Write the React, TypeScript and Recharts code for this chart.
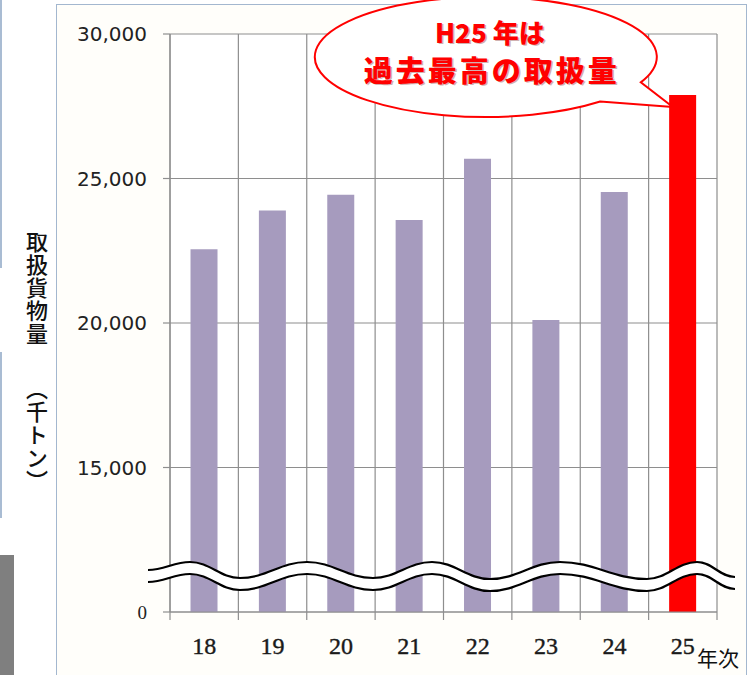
import { BarChart, Bar, XAxis, YAxis, CartesianGrid, Cell, ReferenceDot } from "recharts";

// 取扱貨物量 (千トン) by year (平成)
const years = ["18", "19", "20", "21", "22", "23", "24", "25"];
const cargo = [22550, 23890, 24440, 23560, 25680, 20100, 24530, 27890];
const yTicks = [10000, 15000, 20000, 25000, 30000];
const axisBreak = 10000; // bottom of the broken axis, labelled "0"
const highlightYear = "25";
const calloutLines = ["H25 年は", "過去最高の取扱量"];
const yTitle = ["取扱貨物量", "（千トン）"];
const xTitle = "年次";

const chartData = years.map((year, i) => ({ year, cargo: cargo[i] }));

const W = 755;
const H = 675;
const margin = { top: 34, right: 38, left: 70, bottom: 33 };
const yAxisWidth = 100;
const band = (W - margin.left - margin.right - yAxisWidth) / years.length;

const gridColor = "#8e8e8e";
const barColor = "#A69BBE";
const red = "#FF0000";
const cjk = "'Noto Sans CJK JP', 'Noto Sans', sans-serif";

// hand drawn break mark (upper stroke), lower stroke is offset
const breakPts: [number, number][] = [
  [148, 570], [190, 562], [240, 578], [307, 562], [373, 578], [432, 562],
  [490, 579], [560, 562], [647, 579], [697, 562], [735, 577],
];

function wavePath(dy: number) {
  let d = `M${breakPts[0][0]},${breakPts[0][1] + dy}`;
  for (let i = 1; i < breakPts.length; i++) {
    const [x0, y0] = breakPts[i - 1];
    const [x1, y1] = breakPts[i];
    const k = (x1 - x0) * 0.4;
    d += ` C${x0 + k},${y0 + dy} ${x1 - k},${y1 + dy} ${x1},${y1 + dy}`;
  }
  return d;
}

function CargoTick({ x, y, payload }: any) {
  const isBreak = payload.value === axisBreak;
  return (
    <text
      x={x}
      y={y}
      dy="0.35em"
      textAnchor="end"
      fontFamily={isBreak ? "'Liberation Serif', serif" : "'DejaVu Sans', sans-serif"}
      fontSize={isBreak ? 19 : 20}
      fill="#222"
    >
      {isBreak ? "0" : payload.value.toLocaleString("en-US")}
    </text>
  );
}

function YearTick({ x, y, payload, index }: any) {
  const half = band / 2;
  return (
    <g>
      <line x1={x - half} x2={x - half} y1={y} y2={y + 8} stroke={gridColor} strokeWidth={1.2} />
      {index === years.length - 1 && (
        <line x1={x + half} x2={x + half} y1={y} y2={y + 8} stroke={gridColor} strokeWidth={1.2} />
      )}
      <text x={x} y={y + 42} textAnchor="middle" fontFamily="'Liberation Serif', serif" fontSize={24}
        fill="#1a1a1a" stroke="#1a1a1a" strokeWidth={0.4}>
        {payload.value}
      </text>
    </g>
  );
}

function Callout({ cx, cy }: any) {
  if (cx == null || cy == null) return null;
  const ex = cx - 197;
  const ey = cy - 38;
  const rx = 171;
  const ry = 60;
  const pt = (deg: number) => [ex + rx * Math.cos((deg * Math.PI) / 180), ey + ry * Math.sin((deg * Math.PI) / 180)];
  const [ax, ay] = pt(25);
  const [bx, by] = pt(48);
  const d = `M${ax},${ay} A${rx},${ry} 0 1 0 ${bx},${by} L${cx - 10},${cy + 12} Z`;
  const line = (txt: string, x: number, y: number, size: number, spacing: number) => (
    <>
      <text x={x + 1.5} y={y + 1.5} textAnchor="middle" fontFamily={cjk} fontWeight={900} fontSize={size}
        letterSpacing={spacing} fill="#600" opacity={0.3}>{txt}</text>
      <text x={x} y={y} textAnchor="middle" fontFamily={cjk} fontWeight={900} fontSize={size}
        letterSpacing={spacing} fill={red}>{txt}</text>
    </>
  );
  return (
    <g>
      <path d={d} fill="#fff" stroke={red} strokeWidth={2} />
      {line(calloutLines[0], ex + 4, ey - 14, 26, 0)}
      {line(calloutLines[1], ex + 6, ey + 25, 29, 3)}
    </g>
  );
}

export default function App() {
  const peak = cargo[years.indexOf(highlightYear)];
  return (
    <div style={{ position: "absolute", left: 0, top: 0, width: W, height: H, overflow: "hidden", background: "#fff" }}>
      {/* leftovers from the slide edge */}
      <div style={{ position: "absolute", left: 0, top: 0, width: 2, height: 268, background: "#a9bcd3" }} />
      <div style={{ position: "absolute", left: 0, top: 352, width: 2, height: 166, background: "#a9bcd3" }} />
      <div style={{ position: "absolute", left: 0, top: 555, width: 14, height: 120, background: "#7f7f7f" }} />
      {/* chart frame */}
      <div style={{
        position: "absolute", left: 56, top: 4, width: 689, height: 700,
        border: "1.5px solid #a3b7cf", background: "#fffefa",
      }} />

      <div style={{ position: "absolute", left: 0, top: 0 }}>
        <BarChart width={W} height={H} data={chartData} margin={margin} barCategoryGap="30%">
          <CartesianGrid
            fill="#fff"
            stroke={gridColor}
            strokeWidth={1.2}
            verticalCoordinatesGenerator={({ offset }: any) =>
              Array.from({ length: years.length + 1 }, (_, i) => offset.left + (i * offset.width) / years.length)
            }
          />
          <XAxis
            dataKey="year"
            height={30}
            axisLine={{ stroke: gridColor, strokeWidth: 1.2 }}
            tickLine={false}
            tickSize={0}
            tickMargin={0}
            interval={0}
            tick={<YearTick />}
          />
          <YAxis
            width={yAxisWidth}
            domain={[axisBreak, 30000]}
            ticks={yTicks}
            allowDataOverflow
            axisLine={{ stroke: gridColor, strokeWidth: 1.2 }}
            tickLine={{ stroke: gridColor, strokeWidth: 1.2 }}
            tickSize={7}
            tickMargin={16}
            tick={<CargoTick />}
          />
          <Bar dataKey="cargo" isAnimationActive={false}>
            {chartData.map((d) => (
              <Cell key={d.year} fill={d.year === highlightYear ? red : barColor} />
            ))}
          </Bar>
          <ReferenceDot
            x={highlightYear}
            y={peak}
            r={0}
            shape={(p: any) => <Callout cx={p.cx} cy={p.cy} />}
          />
        </BarChart>
      </div>

      {/* break mark */}
      <svg width={W} height={H} style={{ position: "absolute", left: 0, top: 0, pointerEvents: "none" }}>
        <path d={wavePath(6)} fill="none" stroke="#fff" strokeWidth={11} />
        <path d={wavePath(0)} fill="none" stroke="#000" strokeWidth={2.2} />
        <path d={wavePath(12)} fill="none" stroke="#000" strokeWidth={2.2} />
      </svg>

      <div style={{
        position: "absolute", left: 26, top: 231, width: 22, lineHeight: "22px",
        writingMode: "vertical-rl", fontFamily: cjk, fontSize: 22, fontWeight: 500, letterSpacing: 1, color: "#111",
      }}>{yTitle[0]}</div>
      <div style={{
        position: "absolute", left: 26, top: 378, width: 22, lineHeight: "22px",
        writingMode: "vertical-rl", fontFamily: cjk, fontSize: 22, fontWeight: 500, letterSpacing: 1, color: "#111",
      }}>{yTitle[1]}</div>
      <div style={{
        position: "absolute", left: 697, top: 646, fontFamily: cjk, fontSize: 21, lineHeight: "22px", color: "#111",
      }}>{xTitle}</div>
    </div>
  );
}
